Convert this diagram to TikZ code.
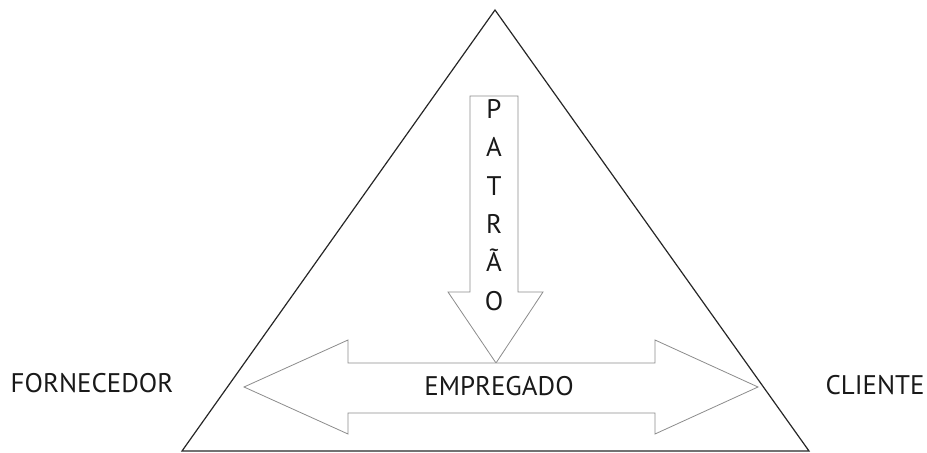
\documentclass[tikz,border=0pt]{standalone}
\usepackage{fontspec}
\setmainfont{PT Sans}
\usepackage{tikz}
\usetikzlibrary{positioning,calc}

\tikzset{
  frame/.style={draw=black!85,line width=1.2bp,line join=miter},
  blockarrow/.style={draw=black!45,line width=0.8bp,line join=miter,fill=white},
  lbl/.style={inner sep=0pt,font=\fontsize{27}{30}\selectfont,text=black!90},
}

\begin{document}
\begin{tikzpicture}[x=1bp,y=-1bp]
\useasboundingbox (0,0) rectangle (927,453);
% triangle
\draw [frame] (495,10) -- (809,451) -- (182,451) -- cycle;
% down arrow
\draw [blockarrow] (470,96) -- (518,96) -- (518,292) -- (543,292) -- (496,363)
  -- (448,292) -- (470,292) -- cycle;
% double arrow
\draw [blockarrow] (244,387) -- (348,340) -- (348,363) -- (655,363) -- (655,340)
  -- (758,387) -- (655,434) -- (655,413) -- (348,413) -- (348,434) -- cycle;
% labels
\node [lbl] (fornecedor) at (92,383) {FORNECEDOR};
\node [lbl] (cliente) at (875,385) {CLIENTE};
\node [lbl] (empregado) at (499,386) {EMPREGADO};
\node [lbl,align=center,font=\fontsize{27}{38.5}\selectfont] (patrao) at (494,205)
  {P\\A\\T\\R\\Ã\\O};
\end{tikzpicture}
\end{document}
